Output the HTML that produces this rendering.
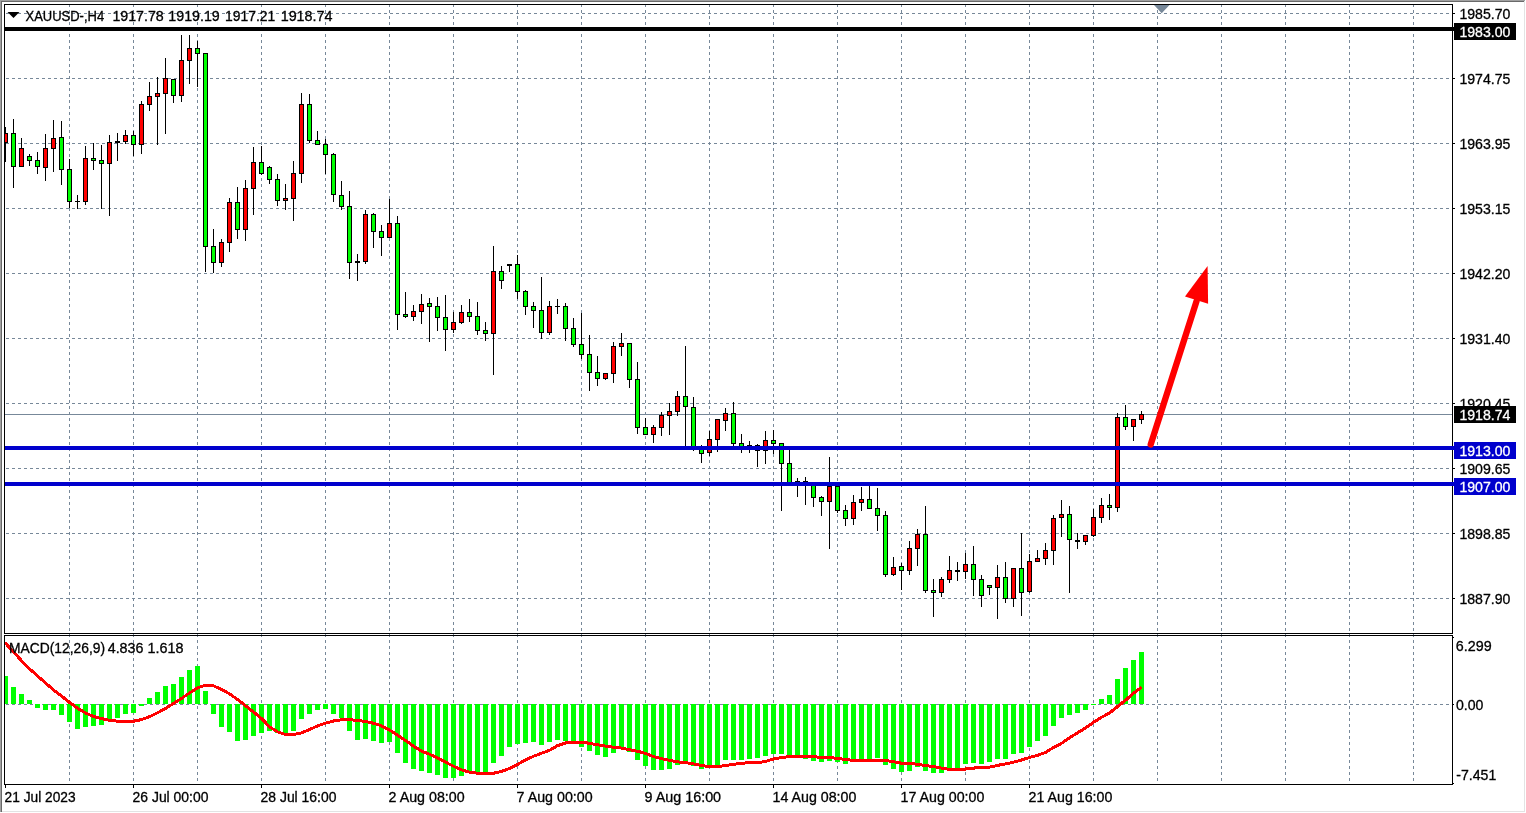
<!DOCTYPE html>
<html lang="en"><head><meta charset="utf-8"><title>XAUUSD-,H4</title>
<style>
html,body{margin:0;padding:0;background:#fff;}
body{width:1526px;height:813px;overflow:hidden;}
svg{display:block;}
text{font-family:"Liberation Sans",sans-serif;font-size:14.2px;fill:#000;stroke:#000;stroke-width:0.3px;}
.w{fill:#fff;stroke:#fff;}
</style></head><body>
<svg width="1526" height="813" viewBox="0 0 1526 813">
<rect x="0" y="0" width="1526" height="813" fill="#fff"/>
<g shape-rendering="crispEdges">
<rect x="0" y="0" width="1525" height="1" fill="#a0a0a0"/>
<rect x="1" y="1" width="1523" height="1" fill="#696969"/>
<rect x="0" y="0" width="1" height="812" fill="#a0a0a0"/>
<rect x="1" y="1" width="1" height="811" fill="#696969"/>
<rect x="1524" y="1" width="1" height="811" fill="#e3e3e3"/>
<rect x="2" y="811" width="1523" height="1" fill="#e3e3e3"/>
</g>
<g shape-rendering="crispEdges" stroke="#778899" stroke-width="1" stroke-dasharray="3 3" fill="none">
<line x1="6" y1="13.5" x2="1452" y2="13.5"/>
<line x1="6" y1="78.5" x2="1452" y2="78.5"/>
<line x1="6" y1="143.5" x2="1452" y2="143.5"/>
<line x1="6" y1="208.5" x2="1452" y2="208.5"/>
<line x1="6" y1="273.5" x2="1452" y2="273.5"/>
<line x1="6" y1="338.5" x2="1452" y2="338.5"/>
<line x1="6" y1="403.5" x2="1452" y2="403.5"/>
<line x1="6" y1="468.5" x2="1452" y2="468.5"/>
<line x1="6" y1="533.5" x2="1452" y2="533.5"/>
<line x1="6" y1="598.5" x2="1452" y2="598.5"/>
<line x1="6" y1="704.5" x2="1452" y2="704.5"/>
<line x1="69.5" y1="4" x2="69.5" y2="633"/>
<line x1="69.5" y1="634" x2="69.5" y2="784"/>
<line x1="133.5" y1="4" x2="133.5" y2="633"/>
<line x1="133.5" y1="634" x2="133.5" y2="784"/>
<line x1="197.5" y1="4" x2="197.5" y2="633"/>
<line x1="197.5" y1="634" x2="197.5" y2="784"/>
<line x1="261.5" y1="4" x2="261.5" y2="633"/>
<line x1="261.5" y1="634" x2="261.5" y2="784"/>
<line x1="325.5" y1="4" x2="325.5" y2="633"/>
<line x1="325.5" y1="634" x2="325.5" y2="784"/>
<line x1="389.5" y1="4" x2="389.5" y2="633"/>
<line x1="389.5" y1="634" x2="389.5" y2="784"/>
<line x1="453.5" y1="4" x2="453.5" y2="633"/>
<line x1="453.5" y1="634" x2="453.5" y2="784"/>
<line x1="517.5" y1="4" x2="517.5" y2="633"/>
<line x1="517.5" y1="634" x2="517.5" y2="784"/>
<line x1="581.5" y1="4" x2="581.5" y2="633"/>
<line x1="581.5" y1="634" x2="581.5" y2="784"/>
<line x1="645.5" y1="4" x2="645.5" y2="633"/>
<line x1="645.5" y1="634" x2="645.5" y2="784"/>
<line x1="709.5" y1="4" x2="709.5" y2="633"/>
<line x1="709.5" y1="634" x2="709.5" y2="784"/>
<line x1="773.5" y1="4" x2="773.5" y2="633"/>
<line x1="773.5" y1="634" x2="773.5" y2="784"/>
<line x1="837.5" y1="4" x2="837.5" y2="633"/>
<line x1="837.5" y1="634" x2="837.5" y2="784"/>
<line x1="901.5" y1="4" x2="901.5" y2="633"/>
<line x1="901.5" y1="634" x2="901.5" y2="784"/>
<line x1="965.5" y1="4" x2="965.5" y2="633"/>
<line x1="965.5" y1="634" x2="965.5" y2="784"/>
<line x1="1029.5" y1="4" x2="1029.5" y2="633"/>
<line x1="1029.5" y1="634" x2="1029.5" y2="784"/>
<line x1="1093.5" y1="4" x2="1093.5" y2="633"/>
<line x1="1093.5" y1="634" x2="1093.5" y2="784"/>
<line x1="1157.5" y1="4" x2="1157.5" y2="633"/>
<line x1="1157.5" y1="634" x2="1157.5" y2="784"/>
<line x1="1221.5" y1="4" x2="1221.5" y2="633"/>
<line x1="1221.5" y1="634" x2="1221.5" y2="784"/>
<line x1="1285.5" y1="4" x2="1285.5" y2="633"/>
<line x1="1285.5" y1="634" x2="1285.5" y2="784"/>
<line x1="1349.5" y1="4" x2="1349.5" y2="633"/>
<line x1="1349.5" y1="634" x2="1349.5" y2="784"/>
<line x1="1413.5" y1="4" x2="1413.5" y2="633"/>
<line x1="1413.5" y1="634" x2="1413.5" y2="784"/>
</g>
<g shape-rendering="crispEdges">
<rect x="5" y="414" width="1448" height="1" fill="#778899"/>
</g>
<polygon points="1154,5 1169.5,5 1161.7,13.2" fill="#778899"/>
<defs><clipPath id="cm"><rect x="5" y="5" width="1447" height="628"/></clipPath><clipPath id="cs"><rect x="5" y="636" width="1447" height="148"/></clipPath></defs>
<g shape-rendering="crispEdges" clip-path="url(#cm)">
<rect x="5" y="127" width="1" height="35" fill="#000"/><rect x="3" y="133" width="5" height="10" fill="#000"/><rect x="4" y="134" width="3" height="8" fill="#ff0000"/>
<rect x="13" y="119" width="1" height="69" fill="#000"/><rect x="11" y="133" width="5" height="34" fill="#000"/><rect x="12" y="134" width="3" height="32" fill="#00ff00"/>
<rect x="21" y="138" width="1" height="29" fill="#000"/><rect x="19" y="148" width="5" height="19" fill="#000"/><rect x="20" y="149" width="3" height="17" fill="#ff0000"/>
<rect x="29" y="154" width="1" height="12" fill="#000"/><rect x="27" y="156" width="5" height="5" fill="#000"/><rect x="28" y="157" width="3" height="3" fill="#00ff00"/>
<rect x="37" y="152" width="1" height="22" fill="#000"/><rect x="35" y="160" width="5" height="7" fill="#000"/><rect x="36" y="161" width="3" height="5" fill="#00ff00"/>
<rect x="45" y="134" width="1" height="47" fill="#000"/><rect x="43" y="148" width="5" height="20" fill="#000"/><rect x="44" y="149" width="3" height="18" fill="#ff0000"/>
<rect x="53" y="120" width="1" height="52" fill="#000"/><rect x="51" y="138" width="5" height="11" fill="#000"/><rect x="52" y="139" width="3" height="9" fill="#ff0000"/>
<rect x="61" y="121" width="1" height="64" fill="#000"/><rect x="59" y="137" width="5" height="33" fill="#000"/><rect x="60" y="138" width="3" height="31" fill="#00ff00"/>
<rect x="69" y="159" width="1" height="49" fill="#000"/><rect x="67" y="169" width="5" height="33" fill="#000"/><rect x="68" y="170" width="3" height="31" fill="#00ff00"/>
<rect x="77" y="195" width="1" height="14" fill="#000"/><rect x="75" y="201" width="5" height="1" fill="#000"/>
<rect x="85" y="146" width="1" height="59" fill="#000"/><rect x="83" y="158" width="5" height="44" fill="#000"/><rect x="84" y="159" width="3" height="42" fill="#ff0000"/>
<rect x="93" y="143" width="1" height="27" fill="#000"/><rect x="91" y="158" width="5" height="3" fill="#000"/><rect x="92" y="159" width="3" height="1" fill="#00ff00"/>
<rect x="101" y="145" width="1" height="64" fill="#000"/><rect x="99" y="160" width="5" height="4" fill="#000"/><rect x="100" y="161" width="3" height="2" fill="#00ff00"/>
<rect x="109" y="135" width="1" height="81" fill="#000"/><rect x="107" y="142" width="5" height="22" fill="#000"/><rect x="108" y="143" width="3" height="20" fill="#ff0000"/>
<rect x="117" y="133" width="1" height="28" fill="#000"/><rect x="115" y="141" width="5" height="2" fill="#000"/>
<rect x="125" y="130" width="1" height="14" fill="#000"/><rect x="123" y="135" width="5" height="7" fill="#000"/><rect x="124" y="136" width="3" height="5" fill="#ff0000"/>
<rect x="133" y="131" width="1" height="25" fill="#000"/><rect x="131" y="135" width="5" height="10" fill="#000"/><rect x="132" y="136" width="3" height="8" fill="#00ff00"/>
<rect x="141" y="101" width="1" height="53" fill="#000"/><rect x="139" y="104" width="5" height="41" fill="#000"/><rect x="140" y="105" width="3" height="39" fill="#ff0000"/>
<rect x="149" y="82" width="1" height="29" fill="#000"/><rect x="147" y="96" width="5" height="9" fill="#000"/><rect x="148" y="97" width="3" height="7" fill="#ff0000"/>
<rect x="157" y="77" width="1" height="68" fill="#000"/><rect x="155" y="93" width="5" height="4" fill="#000"/><rect x="156" y="94" width="3" height="2" fill="#ff0000"/>
<rect x="165" y="58" width="1" height="76" fill="#000"/><rect x="163" y="78" width="5" height="16" fill="#000"/><rect x="164" y="79" width="3" height="14" fill="#ff0000"/>
<rect x="173" y="79" width="1" height="24" fill="#000"/><rect x="171" y="79" width="5" height="17" fill="#000"/><rect x="172" y="80" width="3" height="15" fill="#00ff00"/>
<rect x="181" y="35" width="1" height="67" fill="#000"/><rect x="179" y="60" width="5" height="36" fill="#000"/><rect x="180" y="61" width="3" height="34" fill="#ff0000"/>
<rect x="189" y="35" width="1" height="49" fill="#000"/><rect x="187" y="48" width="5" height="13" fill="#000"/><rect x="188" y="49" width="3" height="11" fill="#ff0000"/>
<rect x="197" y="41" width="1" height="46" fill="#000"/><rect x="195" y="48" width="5" height="6" fill="#000"/><rect x="196" y="49" width="3" height="4" fill="#00ff00"/>
<rect x="205" y="53" width="1" height="219" fill="#000"/><rect x="203" y="53" width="5" height="194" fill="#000"/><rect x="204" y="54" width="3" height="192" fill="#00ff00"/>
<rect x="213" y="229" width="1" height="44" fill="#000"/><rect x="211" y="246" width="5" height="17" fill="#000"/><rect x="212" y="247" width="3" height="15" fill="#00ff00"/>
<rect x="221" y="239" width="1" height="28" fill="#000"/><rect x="219" y="242" width="5" height="21" fill="#000"/><rect x="220" y="243" width="3" height="19" fill="#ff0000"/>
<rect x="229" y="198" width="1" height="54" fill="#000"/><rect x="227" y="202" width="5" height="41" fill="#000"/><rect x="228" y="203" width="3" height="39" fill="#ff0000"/>
<rect x="237" y="187" width="1" height="52" fill="#000"/><rect x="235" y="202" width="5" height="28" fill="#000"/><rect x="236" y="203" width="3" height="26" fill="#00ff00"/>
<rect x="245" y="180" width="1" height="61" fill="#000"/><rect x="243" y="188" width="5" height="42" fill="#000"/><rect x="244" y="189" width="3" height="40" fill="#ff0000"/>
<rect x="253" y="147" width="1" height="68" fill="#000"/><rect x="251" y="162" width="5" height="27" fill="#000"/><rect x="252" y="163" width="3" height="25" fill="#ff0000"/>
<rect x="261" y="146" width="1" height="29" fill="#000"/><rect x="259" y="162" width="5" height="12" fill="#000"/><rect x="260" y="163" width="3" height="10" fill="#00ff00"/>
<rect x="269" y="166" width="1" height="18" fill="#000"/><rect x="267" y="167" width="5" height="13" fill="#000"/><rect x="268" y="168" width="3" height="11" fill="#00ff00"/>
<rect x="277" y="174" width="1" height="32" fill="#000"/><rect x="275" y="179" width="5" height="22" fill="#000"/><rect x="276" y="180" width="3" height="20" fill="#00ff00"/>
<rect x="285" y="184" width="1" height="26" fill="#000"/><rect x="283" y="198" width="5" height="3" fill="#000"/><rect x="284" y="199" width="3" height="1" fill="#ff0000"/>
<rect x="293" y="161" width="1" height="60" fill="#000"/><rect x="291" y="173" width="5" height="26" fill="#000"/><rect x="292" y="174" width="3" height="24" fill="#ff0000"/>
<rect x="301" y="93" width="1" height="90" fill="#000"/><rect x="299" y="104" width="5" height="70" fill="#000"/><rect x="300" y="105" width="3" height="68" fill="#ff0000"/>
<rect x="309" y="94" width="1" height="49" fill="#000"/><rect x="307" y="104" width="5" height="37" fill="#000"/><rect x="308" y="105" width="3" height="35" fill="#00ff00"/>
<rect x="317" y="131" width="1" height="14" fill="#000"/><rect x="315" y="140" width="5" height="5" fill="#000"/><rect x="316" y="141" width="3" height="3" fill="#00ff00"/>
<rect x="325" y="139" width="1" height="35" fill="#000"/><rect x="323" y="144" width="5" height="11" fill="#000"/><rect x="324" y="145" width="3" height="9" fill="#00ff00"/>
<rect x="333" y="153" width="1" height="49" fill="#000"/><rect x="331" y="154" width="5" height="41" fill="#000"/><rect x="332" y="155" width="3" height="39" fill="#00ff00"/>
<rect x="341" y="181" width="1" height="29" fill="#000"/><rect x="339" y="195" width="5" height="12" fill="#000"/><rect x="340" y="196" width="3" height="10" fill="#00ff00"/>
<rect x="349" y="191" width="1" height="88" fill="#000"/><rect x="347" y="206" width="5" height="57" fill="#000"/><rect x="348" y="207" width="3" height="55" fill="#00ff00"/>
<rect x="357" y="254" width="1" height="27" fill="#000"/><rect x="355" y="261" width="5" height="2" fill="#000"/>
<rect x="365" y="210" width="1" height="54" fill="#000"/><rect x="363" y="214" width="5" height="48" fill="#000"/><rect x="364" y="215" width="3" height="46" fill="#ff0000"/>
<rect x="373" y="213" width="1" height="35" fill="#000"/><rect x="371" y="214" width="5" height="18" fill="#000"/><rect x="372" y="215" width="3" height="16" fill="#00ff00"/>
<rect x="381" y="225" width="1" height="31" fill="#000"/><rect x="379" y="231" width="5" height="7" fill="#000"/><rect x="380" y="232" width="3" height="5" fill="#00ff00"/>
<rect x="389" y="199" width="1" height="39" fill="#000"/><rect x="387" y="223" width="5" height="15" fill="#000"/><rect x="388" y="224" width="3" height="13" fill="#ff0000"/>
<rect x="397" y="216" width="1" height="114" fill="#000"/><rect x="395" y="223" width="5" height="92" fill="#000"/><rect x="396" y="224" width="3" height="90" fill="#00ff00"/>
<rect x="405" y="292" width="1" height="26" fill="#000"/><rect x="403" y="314" width="5" height="3" fill="#000"/><rect x="404" y="315" width="3" height="1" fill="#00ff00"/>
<rect x="413" y="305" width="1" height="16" fill="#000"/><rect x="411" y="311" width="5" height="6" fill="#000"/><rect x="412" y="312" width="3" height="4" fill="#ff0000"/>
<rect x="421" y="294" width="1" height="30" fill="#000"/><rect x="419" y="304" width="5" height="8" fill="#000"/><rect x="420" y="305" width="3" height="6" fill="#ff0000"/>
<rect x="429" y="298" width="1" height="44" fill="#000"/><rect x="427" y="303" width="5" height="4" fill="#000"/><rect x="428" y="304" width="3" height="2" fill="#00ff00"/>
<rect x="437" y="297" width="1" height="34" fill="#000"/><rect x="435" y="306" width="5" height="12" fill="#000"/><rect x="436" y="307" width="3" height="10" fill="#00ff00"/>
<rect x="445" y="295" width="1" height="56" fill="#000"/><rect x="443" y="317" width="5" height="13" fill="#000"/><rect x="444" y="318" width="3" height="11" fill="#00ff00"/>
<rect x="453" y="312" width="1" height="21" fill="#000"/><rect x="451" y="322" width="5" height="8" fill="#000"/><rect x="452" y="323" width="3" height="6" fill="#ff0000"/>
<rect x="461" y="305" width="1" height="19" fill="#000"/><rect x="459" y="312" width="5" height="11" fill="#000"/><rect x="460" y="313" width="3" height="9" fill="#ff0000"/>
<rect x="469" y="299" width="1" height="23" fill="#000"/><rect x="467" y="312" width="5" height="5" fill="#000"/><rect x="468" y="313" width="3" height="3" fill="#00ff00"/>
<rect x="477" y="302" width="1" height="33" fill="#000"/><rect x="475" y="316" width="5" height="15" fill="#000"/><rect x="476" y="317" width="3" height="13" fill="#00ff00"/>
<rect x="485" y="322" width="1" height="19" fill="#000"/><rect x="483" y="330" width="5" height="4" fill="#000"/><rect x="484" y="331" width="3" height="2" fill="#00ff00"/>
<rect x="493" y="246" width="1" height="129" fill="#000"/><rect x="491" y="271" width="5" height="63" fill="#000"/><rect x="492" y="272" width="3" height="61" fill="#ff0000"/>
<rect x="501" y="266" width="1" height="23" fill="#000"/><rect x="499" y="271" width="5" height="10" fill="#000"/><rect x="500" y="272" width="3" height="8" fill="#00ff00"/>
<rect x="509" y="264" width="1" height="8" fill="#000"/><rect x="507" y="264" width="5" height="2" fill="#000"/>
<rect x="517" y="255" width="1" height="44" fill="#000"/><rect x="515" y="264" width="5" height="28" fill="#000"/><rect x="516" y="265" width="3" height="26" fill="#00ff00"/>
<rect x="525" y="290" width="1" height="25" fill="#000"/><rect x="523" y="291" width="5" height="16" fill="#000"/><rect x="524" y="292" width="3" height="14" fill="#00ff00"/>
<rect x="533" y="302" width="1" height="26" fill="#000"/><rect x="531" y="306" width="5" height="5" fill="#000"/><rect x="532" y="307" width="3" height="3" fill="#00ff00"/>
<rect x="541" y="277" width="1" height="62" fill="#000"/><rect x="539" y="310" width="5" height="23" fill="#000"/><rect x="540" y="311" width="3" height="21" fill="#00ff00"/>
<rect x="549" y="301" width="1" height="34" fill="#000"/><rect x="547" y="306" width="5" height="27" fill="#000"/><rect x="548" y="307" width="3" height="25" fill="#ff0000"/>
<rect x="557" y="299" width="1" height="15" fill="#000"/><rect x="555" y="306" width="5" height="1" fill="#000"/>
<rect x="565" y="303" width="1" height="38" fill="#000"/><rect x="563" y="306" width="5" height="23" fill="#000"/><rect x="564" y="307" width="3" height="21" fill="#00ff00"/>
<rect x="573" y="318" width="1" height="29" fill="#000"/><rect x="571" y="328" width="5" height="17" fill="#000"/><rect x="572" y="329" width="3" height="15" fill="#00ff00"/>
<rect x="581" y="313" width="1" height="46" fill="#000"/><rect x="579" y="344" width="5" height="11" fill="#000"/><rect x="580" y="345" width="3" height="9" fill="#00ff00"/>
<rect x="589" y="335" width="1" height="56" fill="#000"/><rect x="587" y="354" width="5" height="19" fill="#000"/><rect x="588" y="355" width="3" height="17" fill="#00ff00"/>
<rect x="597" y="356" width="1" height="30" fill="#000"/><rect x="595" y="372" width="5" height="7" fill="#000"/><rect x="596" y="373" width="3" height="5" fill="#00ff00"/>
<rect x="605" y="373" width="1" height="7" fill="#000"/><rect x="603" y="373" width="5" height="6" fill="#000"/><rect x="604" y="374" width="3" height="4" fill="#ff0000"/>
<rect x="613" y="342" width="1" height="41" fill="#000"/><rect x="611" y="346" width="5" height="28" fill="#000"/><rect x="612" y="347" width="3" height="26" fill="#ff0000"/>
<rect x="621" y="333" width="1" height="23" fill="#000"/><rect x="619" y="343" width="5" height="4" fill="#000"/><rect x="620" y="344" width="3" height="2" fill="#ff0000"/>
<rect x="629" y="343" width="1" height="45" fill="#000"/><rect x="627" y="343" width="5" height="37" fill="#000"/><rect x="628" y="344" width="3" height="35" fill="#00ff00"/>
<rect x="637" y="362" width="1" height="72" fill="#000"/><rect x="635" y="379" width="5" height="49" fill="#000"/><rect x="636" y="380" width="3" height="47" fill="#00ff00"/>
<rect x="645" y="418" width="1" height="17" fill="#000"/><rect x="643" y="427" width="5" height="8" fill="#000"/><rect x="644" y="428" width="3" height="6" fill="#00ff00"/>
<rect x="653" y="425" width="1" height="18" fill="#000"/><rect x="651" y="427" width="5" height="8" fill="#000"/><rect x="652" y="428" width="3" height="6" fill="#ff0000"/>
<rect x="661" y="412" width="1" height="24" fill="#000"/><rect x="659" y="415" width="5" height="13" fill="#000"/><rect x="660" y="416" width="3" height="11" fill="#ff0000"/>
<rect x="669" y="403" width="1" height="32" fill="#000"/><rect x="667" y="411" width="5" height="5" fill="#000"/><rect x="668" y="412" width="3" height="3" fill="#ff0000"/>
<rect x="677" y="391" width="1" height="25" fill="#000"/><rect x="675" y="396" width="5" height="16" fill="#000"/><rect x="676" y="397" width="3" height="14" fill="#ff0000"/>
<rect x="685" y="346" width="1" height="102" fill="#000"/><rect x="683" y="396" width="5" height="11" fill="#000"/><rect x="684" y="397" width="3" height="9" fill="#00ff00"/>
<rect x="693" y="397" width="1" height="54" fill="#000"/><rect x="691" y="407" width="5" height="42" fill="#000"/><rect x="692" y="408" width="3" height="40" fill="#00ff00"/>
<rect x="701" y="445" width="1" height="18" fill="#000"/><rect x="699" y="448" width="5" height="6" fill="#000"/><rect x="700" y="449" width="3" height="4" fill="#00ff00"/>
<rect x="709" y="431" width="1" height="25" fill="#000"/><rect x="707" y="439" width="5" height="14" fill="#000"/><rect x="708" y="440" width="3" height="12" fill="#ff0000"/>
<rect x="717" y="419" width="1" height="33" fill="#000"/><rect x="715" y="419" width="5" height="21" fill="#000"/><rect x="716" y="420" width="3" height="19" fill="#ff0000"/>
<rect x="725" y="408" width="1" height="23" fill="#000"/><rect x="723" y="413" width="5" height="8" fill="#000"/><rect x="724" y="414" width="3" height="6" fill="#ff0000"/>
<rect x="733" y="402" width="1" height="45" fill="#000"/><rect x="731" y="413" width="5" height="31" fill="#000"/><rect x="732" y="414" width="3" height="29" fill="#00ff00"/>
<rect x="741" y="434" width="1" height="19" fill="#000"/><rect x="739" y="443" width="5" height="4" fill="#000"/><rect x="740" y="444" width="3" height="2" fill="#00ff00"/>
<rect x="749" y="441" width="1" height="12" fill="#000"/><rect x="747" y="445" width="5" height="1" fill="#000"/>
<rect x="757" y="444" width="1" height="23" fill="#000"/><rect x="755" y="445" width="5" height="6" fill="#000"/><rect x="756" y="446" width="3" height="4" fill="#00ff00"/>
<rect x="765" y="431" width="1" height="33" fill="#000"/><rect x="763" y="440" width="5" height="11" fill="#000"/><rect x="764" y="441" width="3" height="9" fill="#ff0000"/>
<rect x="773" y="430" width="1" height="24" fill="#000"/><rect x="771" y="440" width="5" height="4" fill="#000"/><rect x="772" y="441" width="3" height="2" fill="#00ff00"/>
<rect x="781" y="443" width="1" height="68" fill="#000"/><rect x="779" y="443" width="5" height="21" fill="#000"/><rect x="780" y="444" width="3" height="19" fill="#00ff00"/>
<rect x="789" y="448" width="1" height="36" fill="#000"/><rect x="787" y="463" width="5" height="20" fill="#000"/><rect x="788" y="464" width="3" height="18" fill="#00ff00"/>
<rect x="797" y="478" width="1" height="19" fill="#000"/><rect x="795" y="481" width="5" height="1" fill="#000"/>
<rect x="805" y="477" width="1" height="28" fill="#000"/><rect x="803" y="481" width="5" height="1" fill="#000"/>
<rect x="813" y="483" width="1" height="24" fill="#000"/><rect x="811" y="483" width="5" height="15" fill="#000"/><rect x="812" y="484" width="3" height="13" fill="#00ff00"/>
<rect x="821" y="496" width="1" height="20" fill="#000"/><rect x="819" y="497" width="5" height="5" fill="#000"/><rect x="820" y="498" width="3" height="3" fill="#00ff00"/>
<rect x="829" y="457" width="1" height="92" fill="#000"/><rect x="827" y="486" width="5" height="16" fill="#000"/><rect x="828" y="487" width="3" height="14" fill="#ff0000"/>
<rect x="837" y="484" width="1" height="29" fill="#000"/><rect x="835" y="486" width="5" height="25" fill="#000"/><rect x="836" y="487" width="3" height="23" fill="#00ff00"/>
<rect x="845" y="505" width="1" height="21" fill="#000"/><rect x="843" y="510" width="5" height="9" fill="#000"/><rect x="844" y="511" width="3" height="7" fill="#00ff00"/>
<rect x="853" y="495" width="1" height="30" fill="#000"/><rect x="851" y="502" width="5" height="17" fill="#000"/><rect x="852" y="503" width="3" height="15" fill="#ff0000"/>
<rect x="861" y="487" width="1" height="24" fill="#000"/><rect x="859" y="499" width="5" height="4" fill="#000"/><rect x="860" y="500" width="3" height="2" fill="#ff0000"/>
<rect x="869" y="485" width="1" height="24" fill="#000"/><rect x="867" y="499" width="5" height="10" fill="#000"/><rect x="868" y="500" width="3" height="8" fill="#00ff00"/>
<rect x="877" y="488" width="1" height="43" fill="#000"/><rect x="875" y="508" width="5" height="8" fill="#000"/><rect x="876" y="509" width="3" height="6" fill="#00ff00"/>
<rect x="885" y="511" width="1" height="66" fill="#000"/><rect x="883" y="515" width="5" height="60" fill="#000"/><rect x="884" y="516" width="3" height="58" fill="#00ff00"/>
<rect x="893" y="557" width="1" height="19" fill="#000"/><rect x="891" y="567" width="5" height="8" fill="#000"/><rect x="892" y="568" width="3" height="6" fill="#ff0000"/>
<rect x="901" y="563" width="1" height="27" fill="#000"/><rect x="899" y="566" width="5" height="5" fill="#000"/><rect x="900" y="567" width="3" height="3" fill="#00ff00"/>
<rect x="909" y="541" width="1" height="34" fill="#000"/><rect x="907" y="548" width="5" height="23" fill="#000"/><rect x="908" y="549" width="3" height="21" fill="#ff0000"/>
<rect x="917" y="529" width="1" height="37" fill="#000"/><rect x="915" y="534" width="5" height="15" fill="#000"/><rect x="916" y="535" width="3" height="13" fill="#ff0000"/>
<rect x="925" y="506" width="1" height="87" fill="#000"/><rect x="923" y="534" width="5" height="57" fill="#000"/><rect x="924" y="535" width="3" height="55" fill="#00ff00"/>
<rect x="933" y="579" width="1" height="38" fill="#000"/><rect x="931" y="590" width="5" height="3" fill="#000"/><rect x="932" y="591" width="3" height="1" fill="#00ff00"/>
<rect x="941" y="577" width="1" height="20" fill="#000"/><rect x="939" y="579" width="5" height="14" fill="#000"/><rect x="940" y="580" width="3" height="12" fill="#ff0000"/>
<rect x="949" y="556" width="1" height="27" fill="#000"/><rect x="947" y="570" width="5" height="10" fill="#000"/><rect x="948" y="571" width="3" height="8" fill="#ff0000"/>
<rect x="957" y="562" width="1" height="19" fill="#000"/><rect x="955" y="570" width="5" height="2" fill="#000"/>
<rect x="965" y="553" width="1" height="26" fill="#000"/><rect x="963" y="564" width="5" height="8" fill="#000"/><rect x="964" y="565" width="3" height="6" fill="#ff0000"/>
<rect x="973" y="546" width="1" height="50" fill="#000"/><rect x="971" y="564" width="5" height="16" fill="#000"/><rect x="972" y="565" width="3" height="14" fill="#00ff00"/>
<rect x="981" y="575" width="1" height="32" fill="#000"/><rect x="979" y="579" width="5" height="17" fill="#000"/><rect x="980" y="580" width="3" height="15" fill="#00ff00"/>
<rect x="989" y="585" width="1" height="10" fill="#000"/><rect x="987" y="585" width="5" height="3" fill="#000"/><rect x="988" y="586" width="3" height="1" fill="#00ff00"/>
<rect x="997" y="565" width="1" height="54" fill="#000"/><rect x="995" y="577" width="5" height="11" fill="#000"/><rect x="996" y="578" width="3" height="9" fill="#ff0000"/>
<rect x="1005" y="562" width="1" height="41" fill="#000"/><rect x="1003" y="577" width="5" height="22" fill="#000"/><rect x="1004" y="578" width="3" height="20" fill="#00ff00"/>
<rect x="1013" y="568" width="1" height="39" fill="#000"/><rect x="1011" y="568" width="5" height="31" fill="#000"/><rect x="1012" y="569" width="3" height="29" fill="#ff0000"/>
<rect x="1021" y="533" width="1" height="83" fill="#000"/><rect x="1019" y="568" width="5" height="25" fill="#000"/><rect x="1020" y="569" width="3" height="23" fill="#00ff00"/>
<rect x="1029" y="554" width="1" height="39" fill="#000"/><rect x="1027" y="561" width="5" height="31" fill="#000"/><rect x="1028" y="562" width="3" height="29" fill="#ff0000"/>
<rect x="1037" y="550" width="1" height="12" fill="#000"/><rect x="1035" y="558" width="5" height="4" fill="#000"/><rect x="1036" y="559" width="3" height="2" fill="#ff0000"/>
<rect x="1045" y="543" width="1" height="22" fill="#000"/><rect x="1043" y="550" width="5" height="9" fill="#000"/><rect x="1044" y="551" width="3" height="7" fill="#ff0000"/>
<rect x="1053" y="515" width="1" height="50" fill="#000"/><rect x="1051" y="518" width="5" height="33" fill="#000"/><rect x="1052" y="519" width="3" height="31" fill="#ff0000"/>
<rect x="1061" y="500" width="1" height="37" fill="#000"/><rect x="1059" y="514" width="5" height="4" fill="#000"/><rect x="1060" y="515" width="3" height="2" fill="#ff0000"/>
<rect x="1069" y="506" width="1" height="87" fill="#000"/><rect x="1067" y="514" width="5" height="26" fill="#000"/><rect x="1068" y="515" width="3" height="24" fill="#00ff00"/>
<rect x="1077" y="533" width="1" height="16" fill="#000"/><rect x="1075" y="540" width="5" height="2" fill="#000"/>
<rect x="1085" y="535" width="1" height="10" fill="#000"/><rect x="1083" y="535" width="5" height="7" fill="#000"/><rect x="1084" y="536" width="3" height="5" fill="#ff0000"/>
<rect x="1093" y="509" width="1" height="28" fill="#000"/><rect x="1091" y="517" width="5" height="19" fill="#000"/><rect x="1092" y="518" width="3" height="17" fill="#ff0000"/>
<rect x="1101" y="498" width="1" height="25" fill="#000"/><rect x="1099" y="505" width="5" height="13" fill="#000"/><rect x="1100" y="506" width="3" height="11" fill="#ff0000"/>
<rect x="1109" y="494" width="1" height="26" fill="#000"/><rect x="1107" y="505" width="5" height="3" fill="#000"/><rect x="1108" y="506" width="3" height="1" fill="#00ff00"/>
<rect x="1117" y="413" width="1" height="99" fill="#000"/><rect x="1115" y="417" width="5" height="91" fill="#000"/><rect x="1116" y="418" width="3" height="89" fill="#ff0000"/>
<rect x="1125" y="405" width="1" height="25" fill="#000"/><rect x="1123" y="417" width="5" height="10" fill="#000"/><rect x="1124" y="418" width="3" height="8" fill="#00ff00"/>
<rect x="1133" y="419" width="1" height="22" fill="#000"/><rect x="1131" y="419" width="5" height="8" fill="#000"/><rect x="1132" y="420" width="3" height="6" fill="#ff0000"/>
<rect x="1141" y="411" width="1" height="13" fill="#000"/><rect x="1139" y="414" width="5" height="6" fill="#000"/><rect x="1140" y="415" width="3" height="4" fill="#ff0000"/>
</g>
<g shape-rendering="crispEdges">
<rect x="5" y="27" width="1449" height="4" fill="#000"/>
<rect x="5" y="446" width="1449" height="4" fill="#0000cd"/>
<rect x="5" y="482" width="1449" height="4" fill="#0000cd"/>
</g>
<g shape-rendering="crispEdges" clip-path="url(#cm)">
</g>
<line x1="1150.7" y1="444.5" x2="1196.6" y2="301" stroke="#ff0000" stroke-width="6.3" stroke-linecap="round"/>
<polygon points="1207.6,266 1185,296.5 1208.1,303.8" fill="#ff0000"/>
<g shape-rendering="crispEdges" clip-path="url(#cs)" fill="#00ff00">
<rect x="3" y="676" width="5" height="28"/>
<rect x="11" y="687" width="5" height="17"/>
<rect x="19" y="694" width="5" height="10"/>
<rect x="27" y="700" width="5" height="4"/>
<rect x="35" y="704" width="5" height="4"/>
<rect x="43" y="704" width="5" height="6"/>
<rect x="51" y="704" width="5" height="6"/>
<rect x="59" y="704" width="5" height="11"/>
<rect x="67" y="704" width="5" height="18"/>
<rect x="75" y="704" width="5" height="25"/>
<rect x="83" y="704" width="5" height="23"/>
<rect x="91" y="704" width="5" height="22"/>
<rect x="99" y="704" width="5" height="21"/>
<rect x="107" y="704" width="5" height="17"/>
<rect x="115" y="704" width="5" height="14"/>
<rect x="123" y="704" width="5" height="10"/>
<rect x="131" y="704" width="5" height="9"/>
<rect x="139" y="704" width="5" height="2"/>
<rect x="147" y="698" width="5" height="6"/>
<rect x="155" y="692" width="5" height="12"/>
<rect x="163" y="686" width="5" height="18"/>
<rect x="171" y="684" width="5" height="20"/>
<rect x="179" y="677" width="5" height="27"/>
<rect x="187" y="670" width="5" height="34"/>
<rect x="195" y="666" width="5" height="38"/>
<rect x="203" y="691" width="5" height="13"/>
<rect x="211" y="704" width="5" height="10"/>
<rect x="219" y="704" width="5" height="23"/>
<rect x="227" y="704" width="5" height="28"/>
<rect x="235" y="704" width="5" height="37"/>
<rect x="243" y="704" width="5" height="36"/>
<rect x="251" y="704" width="5" height="32"/>
<rect x="259" y="704" width="5" height="29"/>
<rect x="267" y="704" width="5" height="27"/>
<rect x="275" y="704" width="5" height="29"/>
<rect x="283" y="704" width="5" height="29"/>
<rect x="291" y="704" width="5" height="27"/>
<rect x="299" y="704" width="5" height="15"/>
<rect x="307" y="704" width="5" height="10"/>
<rect x="315" y="704" width="5" height="6"/>
<rect x="323" y="704" width="5" height="5"/>
<rect x="331" y="704" width="5" height="10"/>
<rect x="339" y="704" width="5" height="14"/>
<rect x="347" y="704" width="5" height="27"/>
<rect x="355" y="704" width="5" height="36"/>
<rect x="363" y="704" width="5" height="35"/>
<rect x="371" y="704" width="5" height="37"/>
<rect x="379" y="704" width="5" height="39"/>
<rect x="387" y="704" width="5" height="38"/>
<rect x="395" y="704" width="5" height="49"/>
<rect x="403" y="704" width="5" height="59"/>
<rect x="411" y="704" width="5" height="65"/>
<rect x="419" y="704" width="5" height="67"/>
<rect x="427" y="704" width="5" height="69"/>
<rect x="435" y="704" width="5" height="71"/>
<rect x="443" y="704" width="5" height="74"/>
<rect x="451" y="704" width="5" height="74"/>
<rect x="459" y="704" width="5" height="72"/>
<rect x="467" y="704" width="5" height="68"/>
<rect x="475" y="704" width="5" height="69"/>
<rect x="483" y="704" width="5" height="69"/>
<rect x="491" y="704" width="5" height="59"/>
<rect x="499" y="704" width="5" height="52"/>
<rect x="507" y="704" width="5" height="43"/>
<rect x="515" y="704" width="5" height="40"/>
<rect x="523" y="704" width="5" height="39"/>
<rect x="531" y="704" width="5" height="38"/>
<rect x="539" y="704" width="5" height="41"/>
<rect x="547" y="704" width="5" height="38"/>
<rect x="555" y="704" width="5" height="36"/>
<rect x="563" y="704" width="5" height="37"/>
<rect x="571" y="704" width="5" height="37"/>
<rect x="579" y="704" width="5" height="43"/>
<rect x="587" y="704" width="5" height="47"/>
<rect x="595" y="704" width="5" height="51"/>
<rect x="603" y="704" width="5" height="53"/>
<rect x="611" y="704" width="5" height="49"/>
<rect x="619" y="704" width="5" height="44"/>
<rect x="627" y="704" width="5" height="48"/>
<rect x="635" y="704" width="5" height="56"/>
<rect x="643" y="704" width="5" height="62"/>
<rect x="651" y="704" width="5" height="66"/>
<rect x="659" y="704" width="5" height="66"/>
<rect x="667" y="704" width="5" height="65"/>
<rect x="675" y="704" width="5" height="61"/>
<rect x="683" y="704" width="5" height="58"/>
<rect x="691" y="704" width="5" height="62"/>
<rect x="699" y="704" width="5" height="65"/>
<rect x="707" y="704" width="5" height="62"/>
<rect x="715" y="704" width="5" height="62"/>
<rect x="723" y="704" width="5" height="56"/>
<rect x="731" y="704" width="5" height="56"/>
<rect x="739" y="704" width="5" height="56"/>
<rect x="747" y="704" width="5" height="55"/>
<rect x="755" y="704" width="5" height="54"/>
<rect x="763" y="704" width="5" height="52"/>
<rect x="771" y="704" width="5" height="50"/>
<rect x="779" y="704" width="5" height="50"/>
<rect x="787" y="704" width="5" height="52"/>
<rect x="795" y="704" width="5" height="52"/>
<rect x="803" y="704" width="5" height="55"/>
<rect x="811" y="704" width="5" height="57"/>
<rect x="819" y="704" width="5" height="58"/>
<rect x="827" y="704" width="5" height="57"/>
<rect x="835" y="704" width="5" height="58"/>
<rect x="843" y="704" width="5" height="60"/>
<rect x="851" y="704" width="5" height="56"/>
<rect x="859" y="704" width="5" height="56"/>
<rect x="867" y="704" width="5" height="55"/>
<rect x="875" y="704" width="5" height="54"/>
<rect x="883" y="704" width="5" height="61"/>
<rect x="891" y="704" width="5" height="65"/>
<rect x="899" y="704" width="5" height="68"/>
<rect x="907" y="704" width="5" height="67"/>
<rect x="915" y="704" width="5" height="63"/>
<rect x="923" y="704" width="5" height="67"/>
<rect x="931" y="704" width="5" height="69"/>
<rect x="939" y="704" width="5" height="69"/>
<rect x="947" y="704" width="5" height="65"/>
<rect x="955" y="704" width="5" height="64"/>
<rect x="963" y="704" width="5" height="60"/>
<rect x="971" y="704" width="5" height="59"/>
<rect x="979" y="704" width="5" height="60"/>
<rect x="987" y="704" width="5" height="58"/>
<rect x="995" y="704" width="5" height="55"/>
<rect x="1003" y="704" width="5" height="55"/>
<rect x="1011" y="704" width="5" height="50"/>
<rect x="1019" y="704" width="5" height="49"/>
<rect x="1027" y="704" width="5" height="43"/>
<rect x="1035" y="704" width="5" height="37"/>
<rect x="1043" y="704" width="5" height="32"/>
<rect x="1051" y="704" width="5" height="22"/>
<rect x="1059" y="704" width="5" height="14"/>
<rect x="1067" y="704" width="5" height="11"/>
<rect x="1075" y="704" width="5" height="9"/>
<rect x="1083" y="704" width="5" height="6"/>
<rect x="1091" y="704" width="5" height="1"/>
<rect x="1099" y="699" width="5" height="5"/>
<rect x="1107" y="695" width="5" height="9"/>
<rect x="1115" y="679" width="5" height="25"/>
<rect x="1123" y="668" width="5" height="36"/>
<rect x="1131" y="660" width="5" height="44"/>
<rect x="1139" y="652" width="5" height="52"/>
</g>
<polyline clip-path="url(#cs)" points="4.8,642.5 13.5,652.0 24.6,664.0 29.4,668.7 37.4,675.8 45.5,683.0 53.4,689.8 61.5,696.0 69.5,702.4 77.5,708.3 85.5,712.9 93.5,716.5 101.5,718.6 109.4,720.3 117.5,721.2 125.5,721.3 133.5,721.2 141.4,719.6 149.5,716.7 157.5,712.8 165.5,708.5 173.5,703.5 181.5,698.4 189.5,693.0 197.6,687.7 205.5,685.2 213.6,685.9 221.5,689.3 229.5,693.8 237.5,699.5 245.5,705.7 253.5,712.0 261.7,718.6 269.5,726.8 277.5,731.8 285.4,734.5 293.5,734.5 301.6,732.9 309.4,729.6 317.5,725.9 325.6,723.2 333.5,721.0 341.6,719.7 349.4,719.7 357.5,720.4 365.6,721.5 373.5,723.2 381.6,725.9 389.6,730.1 397.5,735.1 405.6,740.6 413.5,746.1 421.6,751.2 429.6,754.3 437.5,758.0 445.6,762.2 453.5,766.3 461.6,769.9 469.6,772.1 477.5,773.2 485.6,774.0 493.7,773.2 501.6,771.4 509.6,768.5 517.5,764.4 525.6,759.9 533.7,756.2 541.6,753.2 549.6,750.3 557.4,745.7 565.5,743.0 573.6,742.1 581.5,742.1 589.5,743.3 597.4,744.8 605.5,746.1 613.6,747.2 621.5,748.1 629.5,749.8 637.4,751.2 645.5,753.4 653.6,756.7 661.5,758.6 669.5,760.4 677.4,761.9 685.5,762.6 693.6,763.9 701.5,765.5 709.5,766.6 717.4,766.6 725.5,765.5 733.6,764.3 741.5,763.3 749.5,762.6 757.4,762.6 765.5,761.5 773.6,758.9 781.5,757.5 789.5,756.6 797.4,756.6 805.5,756.6 813.6,756.6 821.4,757.5 829.4,757.5 837.5,758.4 845.6,759.5 853.5,760.4 861.6,760.4 869.4,760.4 877.5,760.4 885.6,760.4 893.5,761.7 901.6,763.2 909.4,763.2 917.5,764.4 925.6,765.5 933.5,766.6 941.6,768.1 949.4,769.4 957.5,769.9 965.6,769.0 973.5,768.1 981.6,767.4 989.4,767.2 997.5,765.4 1005.6,763.9 1013.5,762.2 1021.6,760.0 1029.4,757.5 1037.5,755.3 1045.6,752.5 1053.5,747.4 1061.6,743.3 1069.4,738.0 1077.5,732.8 1085.6,728.0 1093.5,722.2 1101.6,717.3 1109.4,713.1 1117.5,706.6 1125.6,700.2 1133.5,693.2 1141.6,687.4" fill="none" stroke="#ff0000" stroke-width="3" stroke-linejoin="round" stroke-linecap="butt" shape-rendering="crispEdges"/>
<g shape-rendering="crispEdges" fill="#000">
<rect x="4" y="4" width="1449" height="1"/>
<rect x="4" y="633" width="1449" height="1"/>
<rect x="4" y="4" width="1" height="630"/>
<rect x="1452" y="4" width="1" height="630"/>
<rect x="4" y="635" width="1449" height="1"/>
<rect x="4" y="784" width="1449" height="1"/>
<rect x="4" y="635" width="1" height="150"/>
<rect x="1452" y="635" width="1" height="150"/>
<rect x="1453" y="13" width="2" height="1"/>
<rect x="1453" y="78" width="2" height="1"/>
<rect x="1453" y="143" width="2" height="1"/>
<rect x="1453" y="208" width="2" height="1"/>
<rect x="1453" y="273" width="2" height="1"/>
<rect x="1453" y="338" width="2" height="1"/>
<rect x="1453" y="403" width="2" height="1"/>
<rect x="1453" y="468" width="2" height="1"/>
<rect x="1453" y="533" width="2" height="1"/>
<rect x="1453" y="598" width="2" height="1"/>
<rect x="1453" y="637" width="1" height="1"/>
<rect x="1453" y="704" width="1" height="1"/>
<rect x="1453" y="783" width="1" height="1"/>
<rect x="5" y="785" width="1" height="3"/>
<rect x="133" y="785" width="1" height="3"/>
<rect x="261" y="785" width="1" height="3"/>
<rect x="389" y="785" width="1" height="3"/>
<rect x="517" y="785" width="1" height="3"/>
<rect x="645" y="785" width="1" height="3"/>
<rect x="773" y="785" width="1" height="3"/>
<rect x="901" y="785" width="1" height="3"/>
<rect x="1029" y="785" width="1" height="3"/>
</g>
<g shape-rendering="crispEdges">
<rect x="1452" y="27" width="2" height="4" fill="#000"/>
<rect x="1452" y="446" width="2" height="4" fill="#0000cd"/>
<rect x="1452" y="482" width="2" height="4" fill="#0000cd"/>
</g>
<text x="1459.4" y="18.6" textLength="51" lengthAdjust="spacingAndGlyphs">1985.70</text>
<text x="1459.4" y="83.6" textLength="51" lengthAdjust="spacingAndGlyphs">1974.75</text>
<text x="1459.4" y="148.6" textLength="51" lengthAdjust="spacingAndGlyphs">1963.95</text>
<text x="1459.4" y="213.6" textLength="51" lengthAdjust="spacingAndGlyphs">1953.15</text>
<text x="1459.4" y="278.6" textLength="51" lengthAdjust="spacingAndGlyphs">1942.20</text>
<text x="1459.4" y="343.6" textLength="51" lengthAdjust="spacingAndGlyphs">1931.40</text>
<text x="1459.4" y="408.6" textLength="51" lengthAdjust="spacingAndGlyphs">1920.45</text>
<text x="1459.4" y="473.6" textLength="51" lengthAdjust="spacingAndGlyphs">1909.65</text>
<text x="1459.4" y="538.6" textLength="51" lengthAdjust="spacingAndGlyphs">1898.85</text>
<text x="1459.4" y="603.6" textLength="51" lengthAdjust="spacingAndGlyphs">1887.90</text>
<g shape-rendering="crispEdges">
<rect x="1454" y="23" width="62" height="17" fill="#000"/>
<rect x="1454" y="406" width="62" height="17" fill="#000"/>
<rect x="1454" y="442" width="62" height="17" fill="#0000cd"/>
<rect x="1454" y="478" width="62" height="17" fill="#0000cd"/>
</g>
<text class="w" x="1459.4" y="37.3" textLength="51" lengthAdjust="spacingAndGlyphs">1983.00</text>
<text class="w" x="1459.4" y="420.3" textLength="51" lengthAdjust="spacingAndGlyphs">1918.74</text>
<text class="w" x="1459.4" y="456.3" textLength="51" lengthAdjust="spacingAndGlyphs">1913.00</text>
<text class="w" x="1459.4" y="492.3" textLength="51" lengthAdjust="spacingAndGlyphs">1907.00</text>
<text x="1455.8" y="650.8" textLength="35.8" lengthAdjust="spacingAndGlyphs">6.299</text>
<text x="1456" y="709.7" textLength="27.4" lengthAdjust="spacingAndGlyphs">0.00</text>
<text x="1456.3" y="780" textLength="40" lengthAdjust="spacingAndGlyphs">-7.451</text>
<polygon points="7.5,12 19.5,12 13.5,18" fill="#000"/>
<text x="25.5" y="21" textLength="78.6" lengthAdjust="spacingAndGlyphs">XAUUSD-,H4</text>
<text x="112.4" y="21" textLength="51.4" lengthAdjust="spacingAndGlyphs">1917.78</text>
<text x="168.3" y="21" textLength="51.5" lengthAdjust="spacingAndGlyphs">1919.19</text>
<text x="225" y="21" textLength="50.3" lengthAdjust="spacingAndGlyphs">1917.21</text>
<text x="280.7" y="21" textLength="51.8" lengthAdjust="spacingAndGlyphs">1918.74</text>
<text x="8.9" y="652.9" textLength="96.2" lengthAdjust="spacingAndGlyphs">MACD(12,26,9)</text>
<text x="107.7" y="652.9" textLength="35.8" lengthAdjust="spacingAndGlyphs">4.836</text>
<text x="147.5" y="652.9" textLength="36" lengthAdjust="spacingAndGlyphs">1.618</text>
<text x="4.6" y="801.7" textLength="71" lengthAdjust="spacingAndGlyphs">21 Jul 2023</text>
<text x="132.6" y="801.7" textLength="75.8" lengthAdjust="spacingAndGlyphs">26 Jul 00:00</text>
<text x="260.6" y="801.7" textLength="75.8" lengthAdjust="spacingAndGlyphs">28 Jul 16:00</text>
<text x="388.6" y="801.7" textLength="76" lengthAdjust="spacingAndGlyphs">2 Aug 08:00</text>
<text x="516.6" y="801.7" textLength="76" lengthAdjust="spacingAndGlyphs">7 Aug 00:00</text>
<text x="644.6" y="801.7" textLength="76.5" lengthAdjust="spacingAndGlyphs">9 Aug 16:00</text>
<text x="772.6" y="801.7" textLength="83.8" lengthAdjust="spacingAndGlyphs">14 Aug 08:00</text>
<text x="900.6" y="801.7" textLength="83.8" lengthAdjust="spacingAndGlyphs">17 Aug 00:00</text>
<text x="1028.6" y="801.7" textLength="83.8" lengthAdjust="spacingAndGlyphs">21 Aug 16:00</text>
</svg>
</body></html>
